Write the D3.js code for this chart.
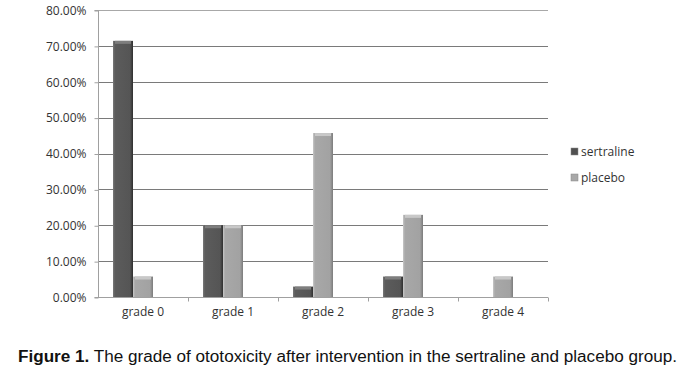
<!DOCTYPE html>
<html>
<head>
<meta charset="utf-8">
<script src="https://cdn.jsdelivr.net/npm/d3@7"></script>
<style>
body { margin: 0; background: #fff; }
svg { display: block; }
.tick text { font-family: "Open Sans", "DejaVu Sans", sans-serif; }
</style>
</head>
<body>
<svg id="chart"></svg>
<script>
var grades = ["grade 0", "grade 1", "grade 2", "grade 3", "grade 4"]
var seriesNames = ["sertraline", "placebo"]
var sertraline = [0.714, 0.20, 0.029, 0.057, 0]
var placebo = [0.057, 0.20, 0.457, 0.229, 0.057]
var yTicks = [0, 0.1, 0.2, 0.3, 0.4, 0.5, 0.6, 0.7, 0.8]

var svgw = 687
var svgh = 379
var plot = {left: 98, right: 548, top: 10, bottom: 297}

var svg = d3.select("#chart")
    .attr("width", svgw)
    .attr("height", svgh)

// gradients for the bevelled bars
var defs = svg.append("defs")
var makeGrad = function(id, stops)
{
    var g = defs.append("linearGradient").attr("id", id)
        .attr("x1", "0").attr("x2", "1").attr("y1", "0").attr("y2", "0")
    stops.forEach(function(s) {
        g.append("stop").attr("offset", s[0]).attr("stop-color", s[1])
    })
}
makeGrad("gradS", [["0%", "#7a7a7a"], ["10%", "#5c5c5c"], ["85%", "#555"], ["100%", "#2f2f2f"]])
makeGrad("gradP", [["0%", "#c8c8c8"], ["10%", "#a8a8a8"], ["85%", "#a2a2a2"], ["100%", "#7c7c7c"]])
var fills = {sertraline: "url(#gradS)", placebo: "url(#gradP)"}
var tops = {sertraline: "#7e7e7e", placebo: "#c8c8c8"}
var legendFill = {sertraline: "#505050", placebo: "#a8a8a8"}

var xscale = d3.scaleBand().domain(grades).range([plot.left, plot.right])
var inner = d3.scaleBand().domain(seriesNames).range([15, 55])
var yscale = d3.scaleLinear().domain([0, 0.8]).range([plot.bottom, plot.top])

// gridlines
svg.append("g")
    .selectAll("line")
    .data(yTicks.slice(1))
    .enter()
    .append("line")
    .attr("x1", plot.left)
    .attr("x2", plot.right)
    .attr("y1", function(d) { return Math.round(yscale(d)) + 0.5 })
    .attr("y2", function(d) { return Math.round(yscale(d)) + 0.5 })
    .attr("stroke", function(d) { return d == 0.8 ? "#a8a8a8" : "#7a7a7a" })
    .attr("stroke-width", 1)

// y axis
var yAxis = d3.axisLeft(yscale)
    .tickValues(yTicks)
    .tickFormat(function(d) { return (d * 100).toFixed(2) + "%" })
    .tickSize(4)
    .tickPadding(8)
var gy = svg.append("g")
    .attr("transform", "translate(" + (plot.left + 0.5) + ",0.5)")
    .call(yAxis)
gy.select(".domain").attr("stroke", "#a0a0a0").attr("d", "M-4," + plot.top + "H0V" + plot.bottom + "H-4")
gy.selectAll(".tick line").attr("stroke", "#a0a0a0")
gy.selectAll(".tick text").attr("fill", "#333").style("font-size", "12px")

// bars
var rows = grades.map(function(g, i) {
    return [{grade: g, name: "sertraline", value: sertraline[i]},
            {grade: g, name: "placebo", value: placebo[i]}]
})
var groups = svg.append("g")
    .selectAll("g")
    .data(rows)
    .enter()
    .append("g")
    .attr("transform", function(d) { return "translate(" + xscale(d[0].grade) + ",0)" })

var bars = groups.selectAll("g")
    .data(function(d) { return d.filter(function(b) { return b.value > 0 }) })
    .enter()
    .append("g")

bars.append("rect")
    .attr("x", function(d) { return inner(d.name) })
    .attr("y", function(d) { return yscale(d.value) })
    .attr("width", inner.bandwidth())
    .attr("height", function(d) { return plot.bottom - yscale(d.value) })
    .attr("fill", function(d) { return fills[d.name] })

bars.append("rect")
    .attr("x", function(d) { return inner(d.name) + 2 })
    .attr("y", function(d) { return yscale(d.value) })
    .attr("width", inner.bandwidth() - 4)
    .attr("height", 3)
    .attr("fill", function(d) { return tops[d.name] })

// x axis
var xAxis = d3.axisBottom(xscale).tickSize(0).tickPadding(10)
var gx = svg.append("g")
    .attr("transform", "translate(0," + (plot.bottom + 0.5) + ")")
    .call(xAxis)
gx.select(".domain").attr("stroke", "#a0a0a0").attr("d", "M" + plot.left + ",0H" + plot.right)
gx.selectAll(".tick text").attr("fill", "#333").style("font-size", "12px")
gx.append("g")
    .selectAll("line")
    .data(grades)
    .enter()
    .append("line")
    .attr("x1", function(d) { return Math.round(xscale(d) + xscale.bandwidth()) + 0.5 })
    .attr("x2", function(d) { return Math.round(xscale(d) + xscale.bandwidth()) + 0.5 })
    .attr("y1", 0)
    .attr("y2", 4)
    .attr("stroke", "#a0a0a0")

// legend
var legend = svg.append("g").attr("transform", "translate(571,148)")
var entries = legend.selectAll("g")
    .data(seriesNames)
    .enter()
    .append("g")
    .attr("transform", function(d, i) { return "translate(0," + i * 26 + ")" })
entries.append("rect")
    .attr("width", 7)
    .attr("height", 7)
    .attr("fill", function(d) { return legendFill[d] })
    .attr("stroke", "#888")
    .attr("stroke-width", 0.5)
entries.append("text")
    .text(function(d) { return d })
    .attr("x", 10)
    .attr("y", 8)
    .attr("fill", "#333")
    .style("font-family", "'Open Sans', 'DejaVu Sans', sans-serif")
    .style("font-size", "12px")

// caption
var cap = svg.append("text")
    .attr("x", 18)
    .attr("y", 362)
    .attr("textLength", 659)
    .attr("lengthAdjust", "spacingAndGlyphs")
    .style("font-family", "'Liberation Sans', Arial, sans-serif")
    .style("font-size", "16px")
    .attr("fill", "#111")
cap.append("tspan").text("Figure 1.").style("font-weight", "bold")
cap.append("tspan").text(" The grade of ototoxicity after intervention in the sertraline and placebo group.")
</script>
</body>
</html>
